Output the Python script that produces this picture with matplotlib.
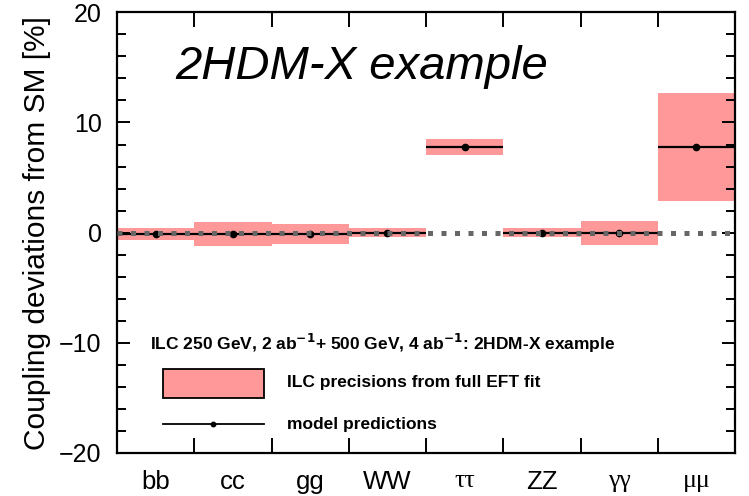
import matplotlib
matplotlib.use("Agg")
import matplotlib.pyplot as plt
import numpy as np
from matplotlib.patches import Rectangle
from matplotlib.lines import Line2D
from matplotlib.ticker import MultipleLocator, FixedLocator, NullFormatter, FixedFormatter

categories = ['bb', 'cc', 'gg', 'WW', 'ττ', 'ZZ', 'γγ', 'μμ']
predictions = [-0.15, -0.15, -0.15, 0.0, 7.8, 0.0, 0.0, 7.8]
precisions = [0.53, 1.1, 0.92, 0.4, 0.73, 0.4, 1.1, 4.9]
greek = [False, False, False, False, True, False, True, True]

plt.rcParams['font.family'] = ['Liberation Sans', 'DejaVu Sans']

fig = plt.figure(figsize=(7.49, 4.96), dpi=100)
ax = fig.add_axes([117/749, 1-453/496, 618/749, 440.7/496])

x = np.arange(len(categories)) + 0.5
pred = np.array(predictions)
err = np.array(precisions)

ax.bar(x, 2*err, bottom=pred-err, width=1.0, color='#ff9999', edgecolor='none', zorder=1)
ax.errorbar(x, pred, xerr=0.5, fmt='o', ms=4.5, color='black', elinewidth=1.6,
            capsize=0, zorder=2)
ax.axhline(0, color='#666666', lw=3.6, ls=(0, (1, 1.7)), zorder=3)

ax.set_xlim(0, len(categories))
ax.set_ylim(-20, 20)

ax.xaxis.set_major_locator(FixedLocator(np.arange(1, len(categories))))
ax.xaxis.set_major_formatter(NullFormatter())
ax.xaxis.set_minor_locator(FixedLocator(x))
ax.xaxis.set_minor_formatter(FixedFormatter(categories))
ax.tick_params(axis='x', which='major', direction='in', length=11, width=1.4,
               top=True, bottom=True)
ax.tick_params(axis='x', which='minor', length=0, pad=12, labelsize=18.5)
for lab, g in zip(ax.xaxis.get_minorticklabels(), greek):
    if g:
        lab.set_family(['Liberation Serif', 'DejaVu Serif'])

ax.yaxis.set_major_locator(MultipleLocator(10))
ax.yaxis.set_minor_locator(MultipleLocator(2))
ax.tick_params(axis='y', which='major', direction='in', length=9.5, width=1.4,
               left=True, right=True, labelsize=18, pad=11)
ax.tick_params(axis='y', which='minor', direction='in', length=6.5, width=1.4,
               left=True, right=True)
ax.set_yticks([-20, -10, 0, 10, 20])
ax.set_yticklabels(['\u221220', '\u221210', '0', '10', '20'])
for s in ax.spines.values():
    s.set_linewidth(1.6)

ax.set_ylabel('Coupling deviations from SM [%]', fontsize=21.5, labelpad=6)

ax.text(0.0939, 0.8487, '2HDM-X example', transform=ax.transAxes, fontsize=34,
        style='italic', va='baseline', ha='left')

# legend
ax.text(0.0534, 0.248, 'ILC 250 GeV, 2 ab$^{\\mathbf{-1}}$+ 500 GeV, 4 ab$^{\\mathbf{-1}}$: 2HDM-X example',
        transform=ax.transAxes, fontsize=12.5, fontweight='bold', va='center', ha='left')
ax.add_patch(Rectangle((0.0744, 0.1248), 0.2379-0.0744, 0.1906-0.1248,
                       transform=ax.transAxes, facecolor='#ff9999',
                       edgecolor='black', lw=1.3, zorder=4))
ax.text(0.275, 0.161, 'ILC precisions from full EFT fit', transform=ax.transAxes,
        fontsize=12.5, fontweight='bold', va='center', ha='left')
ax.add_line(Line2D([0.0744, 0.2379], [0.0658, 0.0658], transform=ax.transAxes,
                   color='black', lw=1.3))
ax.add_line(Line2D([0.1553], [0.0658], transform=ax.transAxes, marker='o',
                   ms=3.2, color='black'))
ax.text(0.275, 0.0658, 'model predictions', transform=ax.transAxes,
        fontsize=12.5, fontweight='bold', va='center', ha='left')

fig.savefig('out.png', dpi=100)
